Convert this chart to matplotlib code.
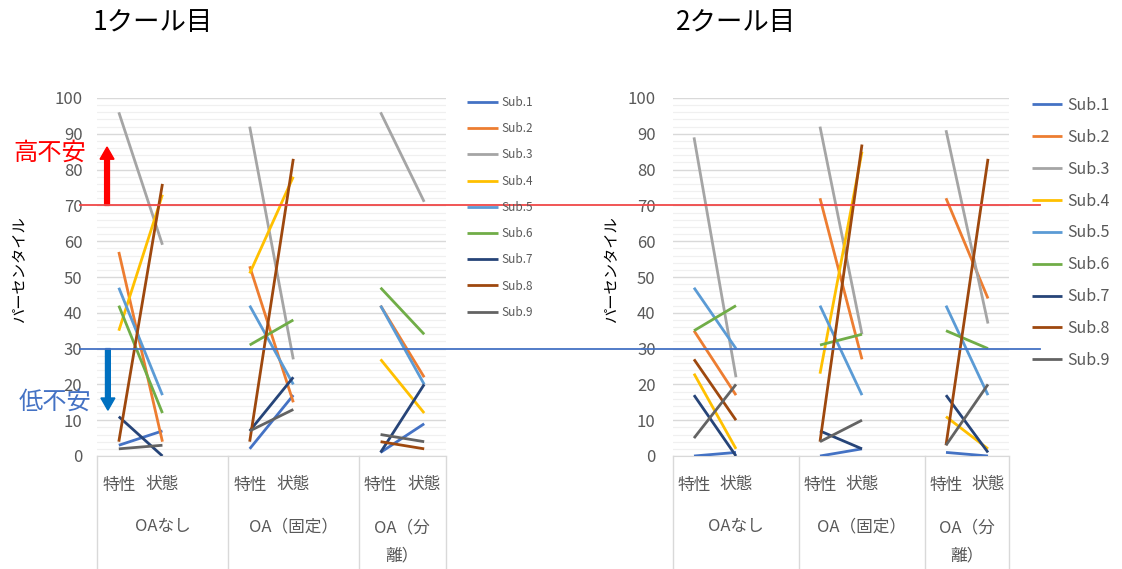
import matplotlib
matplotlib.use("Agg")
import matplotlib.pyplot as plt
from matplotlib.lines import Line2D
from matplotlib.transforms import blended_transform_factory
import numpy as np

plt.rcParams['font.family'] = ['Noto Sans CJK JP', 'DejaVu Sans']

subjects = ["Sub.1", "Sub.2", "Sub.3", "Sub.4", "Sub.5", "Sub.6", "Sub.7", "Sub.8", "Sub.9"]
colors = ["#4472C4", "#ED7D31", "#A5A5A5", "#FFC000", "#5B9BD5",
          "#70AD47", "#264478", "#9E480E", "#636363"]
conditions = ["OAなし", "OA（固定）", "OA（分\n離）"]
phases = ["特性", "状態"]
titles = ["1クール目", "2クール目"]

# 1st course: percentile for trait / state under each condition
none_trait_1 = [3, 57, 96, 35, 47, 42, 11, 4, 2]
none_state_1 = [7, 4, 59, 73, 17, 12, 0, 76, 3]
fixed_trait_1 = [2, 53, 92, 51, 42, 31, 7, 4, 7]
fixed_state_1 = [17, 15, 27, 78, 20, 38, 22, 83, 13]
sep_trait_1 = [1, 42, 96, 27, 42, 47, 1, 4, 6]
sep_state_1 = [9, 22, 71, 12, 20, 34, 20, 2, 4]

# 2nd course
none_trait_2 = [0, 35, 89, 23, 47, 35, 17, 27, 5]
none_state_2 = [1, 17, 22, 2, 30, 42, 0, 10, 20]
fixed_trait_2 = [0, 72, 92, 23, 42, 31, 7, 4, 4]
fixed_state_2 = [2, 27, 34, 85, 17, 34, 2, 87, 10]
sep_trait_2 = [1, 72, 91, 11, 42, 35, 17, 3, 3]
sep_state_2 = [0, 44, 37, 2, 17, 30, 1, 83, 20]

high_threshold = 70
low_threshold = 30

W, H = 1122, 569
fig = plt.figure(figsize=(W / 100, H / 100), dpi=100)


def fx(px):
    return px / W


def fy(py):
    return 1 - py / H


TXT = "#595959"


def build_axes(left_px, right_px, data, title, title_x, ylabel_x, legend_cfg, tick_pad):
    ax = fig.add_axes([fx(left_px), fy(456), fx(right_px - left_px), (456 - 98) / H])
    ncat = 8
    xs = np.arange(ncat)
    for i, (name, col) in enumerate(zip(subjects, colors)):
        ys = [data[0][i], data[1][i], np.nan,
              data[2][i], data[3][i], np.nan,
              data[4][i], data[5][i]]
        ax.plot(xs, ys, color=col, lw=2.0, solid_capstyle='butt', label=name, zorder=3)
    ax.set_xlim(-0.5, ncat - 0.5)
    ax.set_ylim(0, 100)
    ax.set_yticks(np.arange(0, 101, 10))
    ax.set_yticks(np.arange(0, 101, 2), minor=True)
    ax.grid(True, which='major', axis='y', color="#D9D9D9", lw=1.0, zorder=0)
    ax.grid(True, which='minor', axis='y', color="#F0F0F0", lw=0.9, zorder=0)
    ax.tick_params(axis='y', which='both', length=0, labelsize=12, labelcolor=TXT, pad=tick_pad)
    for s in ['top', 'right', 'left']:
        ax.spines[s].set_visible(False)
    ax.spines['bottom'].set_color("#D9D9D9")
    ax.set_xticks([])
    ax.set_facecolor('none')

    # category labels
    tr = blended_transform_factory(ax.transData, fig.transFigure)
    for g in range(3):
        for k, ph in enumerate(phases):
            ax.text(3 * g + k, fy(485), ph, transform=tr, ha='center', va='center',
                    fontsize=12, color=TXT)
    group_spans = [(-0.5, 2.5), (2.5, 5.5), (5.5, 7.5)]
    for (a, b), cond in zip(group_spans, conditions):
        yy = fy(527) if "\n" not in cond else fy(542)
        ax.text((a + b) / 2, yy, cond, transform=tr, ha='center', va='center',
                fontsize=12, color=TXT, multialignment='center', linespacing=1.9)
    for b in [-0.5, 2.5, 5.5, 7.5]:
        fig.add_artist(Line2D([b, b], [fy(456), 0], transform=tr, color="#D9D9D9", lw=1.0))

    fig.text(fx(title_x), fy(22), title, fontsize=19, ha='left', va='center', color='black')
    fig.text(fx(ylabel_x), fy(270), "パーセンタイル", rotation=90, fontsize=11,
             ha='center', va='center', color='black')

    fs, top_px, lx, hl, ls = legend_cfg
    fig.legend(*ax.get_legend_handles_labels(), loc='upper left',
               bbox_to_anchor=(fx(lx), fy(top_px)), frameon=False, fontsize=fs,
               handlelength=hl, labelspacing=ls, handletextpad=0.3, borderpad=0,
               borderaxespad=0, labelcolor=TXT)
    return ax


ax1 = build_axes(97, 446,
                 [none_trait_1, none_state_1, fixed_trait_1, fixed_state_1, sep_trait_1, sep_state_1],
                 titles[0], 93, 20, (8.5, 96, 467, 2.6, 1.12), 10.5)
ax2 = build_axes(673, 1009,
                 [none_trait_2, none_state_2, fixed_trait_2, fixed_state_2, sep_trait_2, sep_state_2],
                 titles[1], 676, 612, (11.5, 97, 1032, 1.9, 0.93), 12.5)

# threshold lines across both panels
trh = blended_transform_factory(fig.transFigure, ax1.transData)
fig.add_artist(Line2D([fx(80), fx(1040)], [high_threshold, high_threshold], transform=trh,
                      color="#F04848", lw=1.3, zorder=5))
fig.add_artist(Line2D([fx(80), fx(1040)], [low_threshold, low_threshold], transform=trh,
                      color="#4472C4", lw=1.3, zorder=5))

# arrows for high / low anxiety
ax1.arrow(-0.27, high_threshold, 0, 16.3, width=0.11, head_width=0.32, head_length=3.4,
          length_includes_head=True, color="#FF0000", clip_on=False, zorder=6)
ax1.arrow(-0.25, low_threshold, 0, -17.2, width=0.11, head_width=0.32, head_length=3.4,
          length_includes_head=True, color="#0070C0", clip_on=False, zorder=6)
fig.text(fx(50), fy(153), "高不安", fontsize=17.5, color="#FF0000", ha='center', va='center')
fig.text(fx(55), fy(402), "低不安", fontsize=17.5, color="#4472C4", ha='center', va='center')

fig.savefig("out.png", dpi=100)
